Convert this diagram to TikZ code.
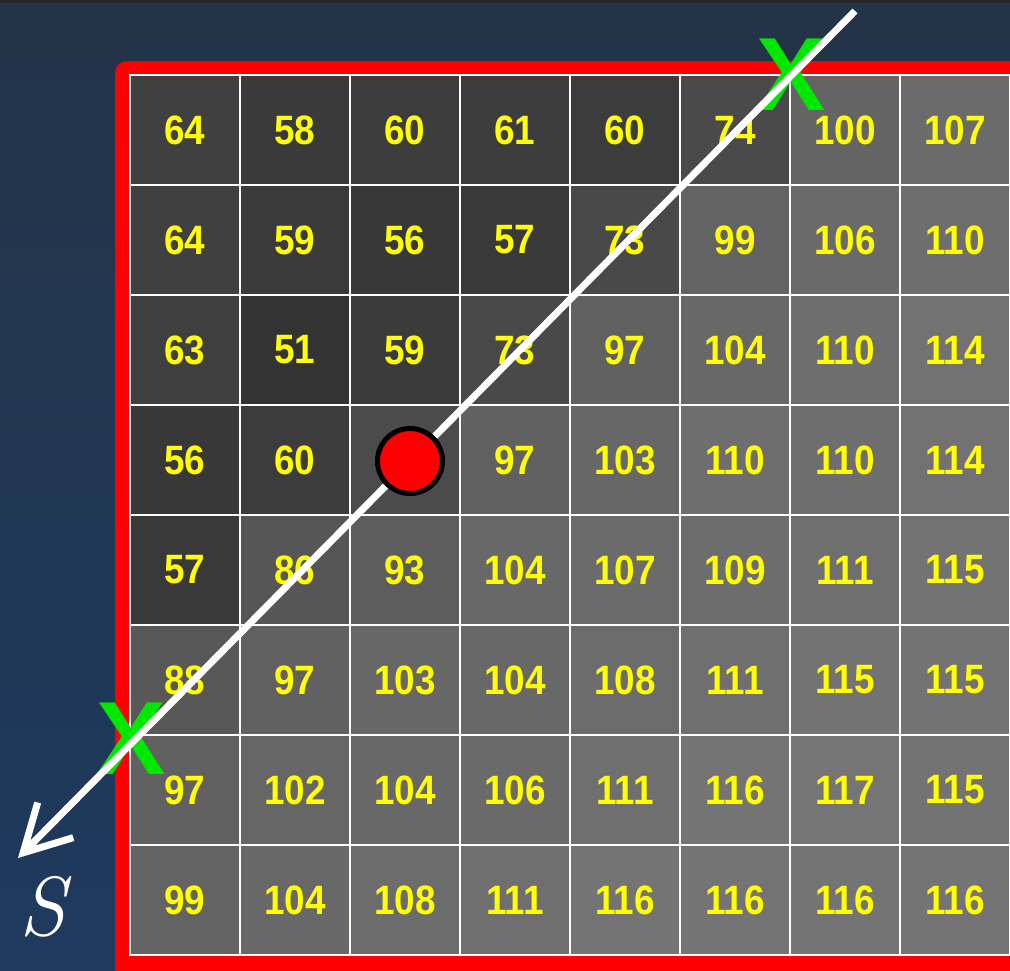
\documentclass[tikz,border=0pt]{standalone}
\usepackage{fontspec}
\newfontfamily\numfont[FakeStretch=0.9]{Liberation Sans}
\newfontfamily\xfont{Liberation Sans}
\usetikzlibrary{arrows.meta}
\definecolor{bgtop}{RGB}{35,52,72}
\definecolor{bgbot}{RGB}{30,58,95}
\definecolor{xgreen}{RGB}{0,232,0}
\definecolor{numyellow}{RGB}{255,255,0}
\tikzset{
  cellbox/.style={draw=white, line width=2pt, minimum size=110pt, inner sep=0pt,
    text=numyellow, font=\numfont\bfseries\fontsize{41}{41}\selectfont},
  pathline/.style={white, line width=7pt, -{Straight Barb[length=46pt,width=50pt]}},
  crossmark/.style={text=xgreen, inner sep=0pt, font=\xfont\bfseries\fontsize{104}{104}\selectfont},
  centerdot/.style={circle, fill=red, draw=black, line width=5pt, minimum size=65pt, inner sep=0pt},
}
\begin{document}
\begin{tikzpicture}[x=1pt,y=-1pt]
\useasboundingbox (0,0) rectangle (1010,970);
\shade[top color=bgtop, bottom color=bgbot] (0,0) rectangle (1010,970);
\fill[black!85] (0,0) rectangle (1010,3);
\fill[red, rounded corners=12pt] (115,61) rectangle (1060,1020);
\foreach \vals [count=\r] in {
  {64,58,60,61,60,74,100,107},
  {64,59,56,57,73,99,106,110},
  {63,51,59,73,97,104,110,114},
  {56,60,0,97,103,110,110,114},
  {57,86,93,104,107,109,111,115},
  {88,97,103,104,108,111,115,115},
  {97,102,104,106,111,116,117,115},
  {99,104,108,111,116,116,116,116}} {
  \foreach \v [count=\c] in \vals {
    \ifnum\v=0 \def\g{75}\def\t{}\else\edef\g{\v}\edef\t{\v}\fi
    \definecolor{cellc}{RGB}{\g,\g,\g}
    \node[cellbox, fill=cellc] (c\r-\c) at ({75+110*\c},{20+110*\r}) {\t};
  }
}
\node[crossmark] (xtop) at (791,75) {X};
\node[crossmark] (xbot) at (131,739) {X};
\coordinate (lstart) at (855,11);
\coordinate (ltip) at (18,858);
\draw[pathline] (lstart) -- (ltip);
\node[centerdot] (dot) at (410,461) {};
\node[text=white, inner sep=0pt, font=\itshape\fontsize{84}{84}\selectfont] (slab) at (43,907) {S};
\end{tikzpicture}
\end{document}
